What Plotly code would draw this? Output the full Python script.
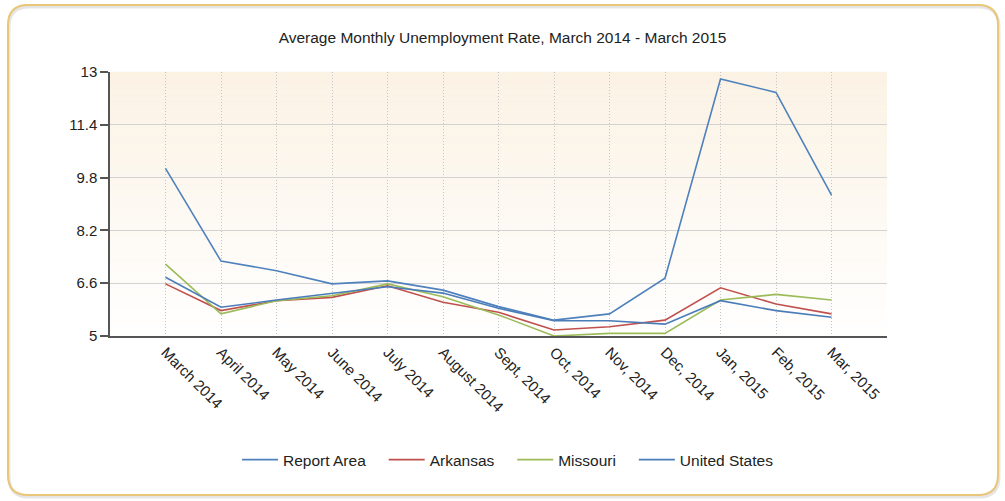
import plotly.graph_objects as go

months = ["March 2014", "April 2014", "May 2014", "June 2014", "July 2014", "August 2014",
          "Sept, 2014", "Oct, 2014", "Nov, 2014", "Dec, 2014", "Jan, 2015", "Feb, 2015", "Mar, 2015"]
report_area = [10.08, 7.27, 6.98, 6.58, 6.67, 6.39, 5.89, 5.48, 5.67, 6.75, 12.79, 12.38, 9.27]
arkansas = [6.58, 5.77, 6.07, 6.17, 6.52, 6.02, 5.72, 5.18, 5.28, 5.48, 6.46, 5.97, 5.67]
missouri = [7.18, 5.67, 6.07, 6.22, 6.58, 6.19, 5.64, 5.0, 5.08, 5.08, 6.09, 6.26, 6.09]
united_states = [6.78, 5.87, 6.09, 6.29, 6.49, 6.30, 5.84, 5.46, 5.46, 5.36, 6.07, 5.77, 5.57]
y_ticks = [5, 6.6, 8.2, 9.8, 11.4, 13]

series = [("Report Area", report_area, "#4f81bd"),
          ("Arkansas", arkansas, "#c0504d"),
          ("Missouri", missouri, "#9bbb59"),
          ("United States", united_states, "#4a7db8")]

FONT = "Liberation Sans, Arial, sans-serif"
W, H = 1005, 501
ML, MR, MT, MB = 110, 118, 72, 165
PW, PH = W - ML - MR, H - MT - MB

fig = go.Figure()
xs = list(range(len(months)))
pad = "\u00a0\u00a0\u00a0"
for name, vals, col in series:
    fig.add_trace(go.Scatter(x=xs, y=vals, mode="lines", name=name + pad,
                             line=dict(color=col, width=1.6)))

# plot background gradient (styling)
shapes = []
n = 40
top = (251, 242, 228)
for i in range(n):
    t = i / n
    c = tuple(round(top[k] + (255 - top[k]) * t) for k in range(3))
    shapes.append(dict(type="rect", xref="x domain", yref="y domain",
                       x0=0, x1=1, y0=1 - (i + 1) / n, y1=1 - i / n + 0.001,
                       fillcolor="rgb(%d,%d,%d)" % c, line=dict(width=0), layer="below"))

# outer rounded frame
def px(v): return (v - ML) / PW
def py(v): return (H - MB - v) / PH
def rrect(L, T, R, B, r):
    return (f"M {px(L+r)},{py(T)} L {px(R-r)},{py(T)} Q {px(R)},{py(T)} {px(R)},{py(T+r)} "
            f"L {px(R)},{py(B-r)} Q {px(R)},{py(B)} {px(R-r)},{py(B)} "
            f"L {px(L+r)},{py(B)} Q {px(L)},{py(B)} {px(L)},{py(B-r)} "
            f"L {px(L)},{py(T+r)} Q {px(L)},{py(T)} {px(L+r)},{py(T)} Z")
shapes.append(dict(type="path", xref="paper", yref="paper", path=rrect(9, 7, 999, 497, 20),
                   line=dict(color="rgba(150,150,150,0.25)", width=3), layer="above"))
shapes.append(dict(type="path", xref="paper", yref="paper", path=rrect(8, 5, 998, 495, 20),
                   line=dict(color="#e9c678", width=2), layer="above"))

fig.update_layout(
    width=W, height=H,
    margin=dict(l=ML, r=MR, t=MT, b=MB),
    paper_bgcolor="white", plot_bgcolor="rgba(0,0,0,0)",
    font=dict(family=FONT, size=15, color="#222"),
    title=dict(text="Average Monthly Unemployment Rate, March 2014 - March 2015",
               x=0.5, xanchor="center", y=1 - 38 / H, yanchor="middle",
               font=dict(size=15.5, color="#222")),
    showlegend=True,
    legend=dict(orientation="h", x=0.52, xanchor="center", y=-0.47, yanchor="middle",
                font=dict(size=15.5), itemwidth=36, bgcolor="rgba(0,0,0,0)"),
    shapes=shapes,
    xaxis=dict(range=[-1, 13], tickmode="array", tickvals=xs + [13],
               ticktext=months + [""], tickangle=45, ticks="",
               showgrid=True, gridcolor="#c4c4c4", griddash="1px,2px", gridwidth=1,
               showline=True, linecolor="#555", linewidth=1.5, zeroline=False,
               tickfont=dict(size=15, color="#222")),
    xaxis2=dict(overlaying="x", matches="x", range=[-1, 13], side="bottom",
                tickmode="array", tickvals=[-1, 1, 3, 5, 7, 9, 11, 13],
                ticks="outside", ticklen=8, tickcolor="#555", tickwidth=1.5,
                showticklabels=False, showgrid=False, zeroline=False, showline=False),
    xaxis3=dict(overlaying="x", matches="x", range=[-1, 13], side="bottom",
                tickmode="array", tickvals=[4, 9], ticks="",
                showticklabels=False, showgrid=True, gridcolor="#cfcfcf", gridwidth=1.2,
                zeroline=False, showline=False),
    yaxis=dict(range=[5, 13], tickmode="array", tickvals=y_ticks,
               ticktext=[("%g" % v) for v in y_ticks],
               ticks="outside", ticklen=8, tickcolor="#555", tickwidth=1.5,
               showgrid=True, gridcolor="#d2d2d2", gridwidth=1.3,
               showline=True, linecolor="#555", linewidth=1.5, zeroline=False,
               tickfont=dict(size=15, color="#222")),
)

fig.write_html("out.html", config={"displayModeBar": False},
               post_script="document.body.style.margin='0';")
